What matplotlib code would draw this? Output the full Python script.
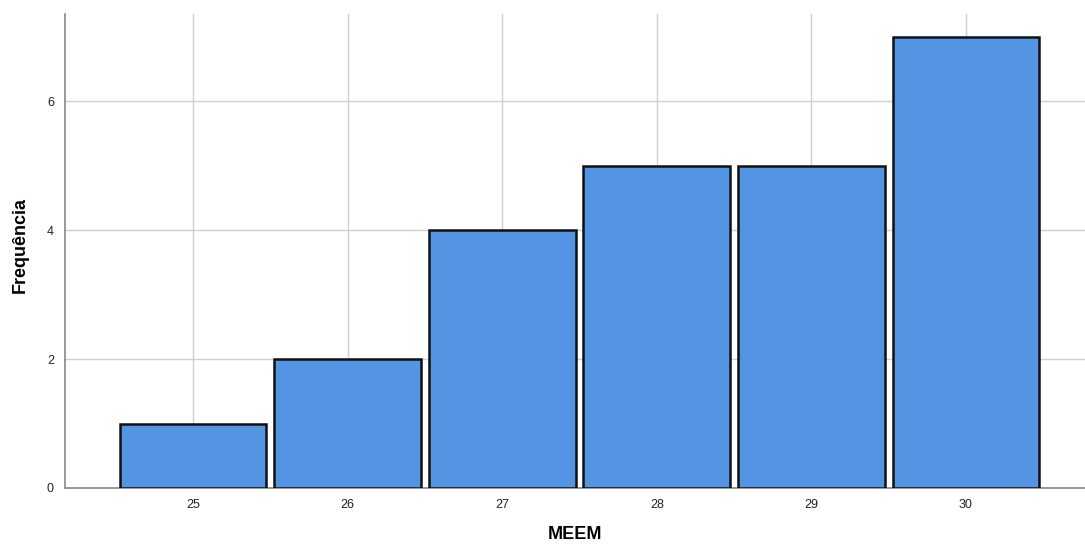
import matplotlib
matplotlib.use("Agg")
import matplotlib.pyplot as plt

plt.rcParams['font.family'] = ['Liberation Sans', 'DejaVu Sans']

categories = [25, 26, 27, 28, 29, 30]
frequencies = [1, 2, 4, 5, 5, 7]
y_ticks = [0, 2, 4, 6]

fig = plt.figure(figsize=(10.85, 5.45), dpi=100)
ax = fig.add_axes([65/1085, 1-488/545, 1-65/1085, (488-14)/545])

ax.bar(categories, frequencies, width=0.95, color='#5394e3', edgecolor='#111111',
       linewidth=1.8, zorder=3)

ax.set_xlim(24.172, 30.77)
ax.set_ylim(0, 7.35)
ax.set_xticks(categories)
ax.set_yticks(y_ticks)
ax.grid(True, color='#cfcfcf', linewidth=1.0, zorder=0)
ax.set_axisbelow(True)
ax.tick_params(length=0, labelsize=9, colors='#222222', pad=8)
for s in ['top', 'right']:
    ax.spines[s].set_visible(False)
for s in ['left', 'bottom']:
    ax.spines[s].set_color('#888888')
    ax.spines[s].set_linewidth(1.2)

ax.set_xlabel('MEEM', fontsize=13, fontweight='bold', labelpad=11)
ax.set_ylabel('Frequência', fontsize=13, fontweight='bold', labelpad=22)
ax.yaxis.set_label_coords(-36/1020, (488-245)/474)

fig.savefig('out.png', dpi=100)
